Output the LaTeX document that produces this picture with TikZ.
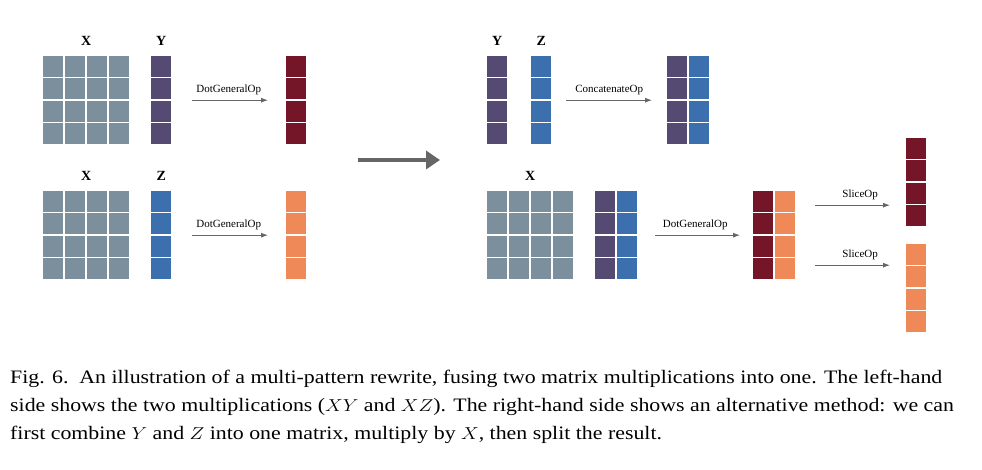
\documentclass[tikz,border=0pt]{standalone}
\usepackage{fontspec}
\setmainfont{Liberation Serif}
\usetikzlibrary{arrows.meta,calc}

\definecolor{xgray}{HTML}{7B8F9C}
\definecolor{ypurple}{HTML}{544A72}
\definecolor{zblue}{HTML}{3B6FAD}
\definecolor{rmaroon}{HTML}{741628}
\definecolor{rorange}{HTML}{EF8A58}

\tikzset{
  blk/.style={inner sep=0pt, anchor=north west, draw=none},
  cell/.style={draw=white, line width=1.2pt},
  lbl/.style={font=\bfseries\fontsize{14}{16}\selectfont},
  op/.style={-{Latex[length=7pt,width=5pt]}, draw=black!60, line width=0.9pt},
  oplbl/.style={font=\fontsize{11}{13}\selectfont, above, yshift=2pt}
}

%% block of cells: name, left x, top y, columns, colour
\newcommand\cellblk[5]{
  \node[blk, minimum width=#4*22pt, minimum height=90pt] (#1) at (#2pt,#3pt) {};
  \foreach \c in {1,...,#4}{
    \foreach \r in {1,...,4}{
      \draw[cell, fill=#5]
        ($(#1.north west)+(\c*22pt-22pt,-\r*22.5pt+22.5pt)$)
        rectangle +(22pt,-22.5pt);
    }
  }
}

\begin{document}
\begin{tikzpicture}[x=1pt, y=1pt]
\useasboundingbox (0,0) rectangle (982,-470);

%% left-hand side
\cellblk{XA}{42}{-55}{4}{xgray}
\cellblk{YA}{150}{-55}{1}{ypurple}
\cellblk{RA}{285}{-55}{1}{rmaroon}
\node[lbl, above=6pt] (xa) at (XA.north) {X};
\node[lbl, above=6pt] (ya) at (YA.north) {Y};
\draw[op, shorten <=20pt, shorten >=17pt] (YA) -- node[oplbl]{DotGeneralOp} (RA);

\cellblk{XB}{42}{-190}{4}{xgray}
\cellblk{ZB}{150}{-190}{1}{zblue}
\cellblk{RB}{285}{-190}{1}{rorange}
\node[lbl, above=6pt] (xb) at (XB.north) {X};
\node[lbl, above=6pt] (zb) at (ZB.north) {Z};
\draw[op, shorten <=20pt, shorten >=17pt] (ZB) -- node[oplbl]{DotGeneralOp} (RB);

%% rewrite
\coordinate (m0) at (358,-160);
\coordinate (m1) at (440,-160);
\draw[-{Triangle[length=14pt,width=18pt]}, draw=black!60, line width=3.5pt] (m0) -- (m1);

%% right-hand side
\cellblk{YC}{486}{-55}{1}{ypurple}
\cellblk{ZC}{530}{-55}{1}{zblue}
\cellblk{YZC}{666}{-55}{1}{ypurple}
\cellblk{ZZC}{688}{-55}{1}{zblue}
\node[lbl, above=6pt] (yc) at (YC.north) {Y};
\node[lbl, above=6pt] (zc) at (ZC.north) {Z};
\draw[op, shorten <=14pt, shorten >=14pt] (ZC.east) -- node[oplbl]{ConcatenateOp} (YZC.west);

\cellblk{XD}{486}{-190}{4}{xgray}
\cellblk{YD}{594}{-190}{1}{ypurple}
\cellblk{ZD}{616}{-190}{1}{zblue}
\cellblk{RD}{752}{-190}{1}{rmaroon}
\cellblk{QD}{774}{-190}{1}{rorange}
\node[lbl, above=6pt] (xd) at (XD.north) {X};
\draw[op, shorten <=17pt, shorten >=12pt] (ZD.east) -- node[oplbl]{DotGeneralOp} (RD.west);

\cellblk{SA}{905}{-137}{1}{rmaroon}
\cellblk{SB}{905}{-243}{1}{rorange}
\coordinate (s0) at ($(QD.east)+(19pt,30pt)$);
\coordinate (s1) at ($(QD.east)+(19pt,-30pt)$);
\draw[op, shorten >=15pt] (s0) -- node[oplbl]{SliceOp} (s0 -| SA.west);
\draw[op, shorten >=15pt] (s1) -- node[oplbl]{SliceOp} (s1 -| SB.west);

%% caption
\node[anchor=north west, inner sep=0pt] (cap) at (10,-370)
{\scalebox{1.15}[1]{\parbox{860pt}{\fontsize{19}{28}\selectfont
Fig. 6.\ \ An illustration of a multi-pattern rewrite, fusing two matrix multiplications into one. The left-hand\\
side shows the two multiplications ($XY$ and $XZ$). The right-hand side shows an alternative method: we can\\
first combine $Y$ and $Z$ into one matrix, multiply by $X$, then split the result.}}};

\end{tikzpicture}
\end{document}
